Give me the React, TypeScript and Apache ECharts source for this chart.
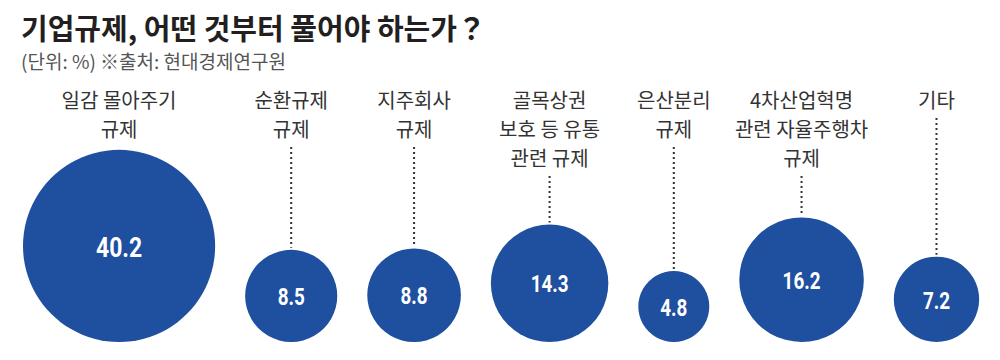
import React, { useEffect, useRef } from 'react';
import * as echarts from 'echarts';

const titleText = '기업규제, 어떤 것부터 풀어야 하는가？';
const subtitleText = '(단위: %) ※출처: 현대경제연구원';
const categories = [
  '일감 몰아주기\n규제',
  '순환규제\n규제',
  '지주회사\n규제',
  '골목상권\n보호 등 유통\n관련 규제',
  '은산분리\n규제',
  '4차산업혁명\n관련 자율주행차\n규제',
  '기타',
];
const values = [40.2, 8.5, 8.8, 14.3, 4.8, 16.2, 7.2];

const KR = '"Noto Sans CJK KR", "Noto Sans", sans-serif';
const NUM = 'Roboto, "DejaVu Sans", sans-serif';
const BLUE = '#1f4f9f';

export default function App() {
  const ref = useRef<HTMLDivElement>(null);
  useEffect(() => {
    document.body.style.margin = '0';
    const chart = echarts.init(ref.current!, null, { renderer: 'svg' });

    // layout derived from values: circle area proportional to value, packed left to right
    const diam = values.map((v) => 29.2 * Math.sqrt(v) + 7);
    const centers: number[] = [];
    let edge = 23;
    diam.forEach((d) => {
      centers.push(edge + d / 2);
      edge += d + 30;
    });
    const baseline = 342;
    const data = values.map((v, i) => [centers[i], v, diam[i], i]);

    chart.setOption({
      animation: false,
      grid: { left: 0, right: 0, top: 0, bottom: 0 },
      xAxis: { type: 'value', min: 0, max: 1000, show: false },
      yAxis: { type: 'value', min: 0, max: 360, inverse: true, show: false },
      graphic: [
        {
          type: 'text',
          x: 21,
          y: 27,
          style: {
            text: titleText,
            font: `bold 29px ${KR}`,
            fill: '#231f20',
            textVerticalAlign: 'middle',
          },
        },
        {
          type: 'text',
          x: 21,
          y: 60,
          style: {
            text: subtitleText,
            font: `19px ${KR}`,
            fill: '#555',
            textVerticalAlign: 'middle',
          },
        },
      ],
      series: [
        {
          type: 'custom',
          data,
          renderItem: (params: any, api: any) => {
            const cx = api.value(0);
            const v = api.value(1);
            const d = api.value(2);
            const i = api.value(3);
            const center = api.coord([cx, baseline - d / 2]);
            const top = api.coord([cx, baseline - d]);
            const r = api.size([d, d])[0] / 2;
            const label = categories[i];
            const n = label.split('\n').length;
            const labelTop = api.coord([cx, 85]);
            const lineStart = api.coord([cx, 100 + (n - 1) * 29 + 18]);
            const children: any[] = [
              {
                type: 'circle',
                shape: { cx: center[0], cy: center[1], r },
                style: { fill: BLUE },
              },
              {
                type: 'text',
                x: center[0],
                y: center[1] + 1,
                scaleX: 0.82,
                style: {
                  text: v.toFixed(1),
                  x: 0,
                  y: 0,
                  textAlign: 'center',
                  textVerticalAlign: 'middle',
                  font: `bold ${v > 30 ? 28 : 23}px ${NUM}`,
                  fill: '#fff',
                },
              },
              {
                type: 'text',
                style: {
                  text: label,
                  x: labelTop[0],
                  y: labelTop[1],
                  textAlign: 'center',
                  textVerticalAlign: 'top',
                  font: `20px ${KR}`,
                  lineHeight: 29,
                  fill: '#333',
                },
              },
            ];
            if (lineStart[1] < top[1] - 6) {
              children.push({
                type: 'line',
                shape: { x1: top[0], y1: lineStart[1], x2: top[0], y2: top[1] - 2 },
                style: { stroke: '#333', lineWidth: 2, lineDash: [2, 3] },
              });
            }
            return { type: 'group', children };
          },
        },
      ],
    });
    return () => chart.dispose();
  }, []);
  return <div ref={ref} style={{ width: 1000, height: 360 }} />;
}
